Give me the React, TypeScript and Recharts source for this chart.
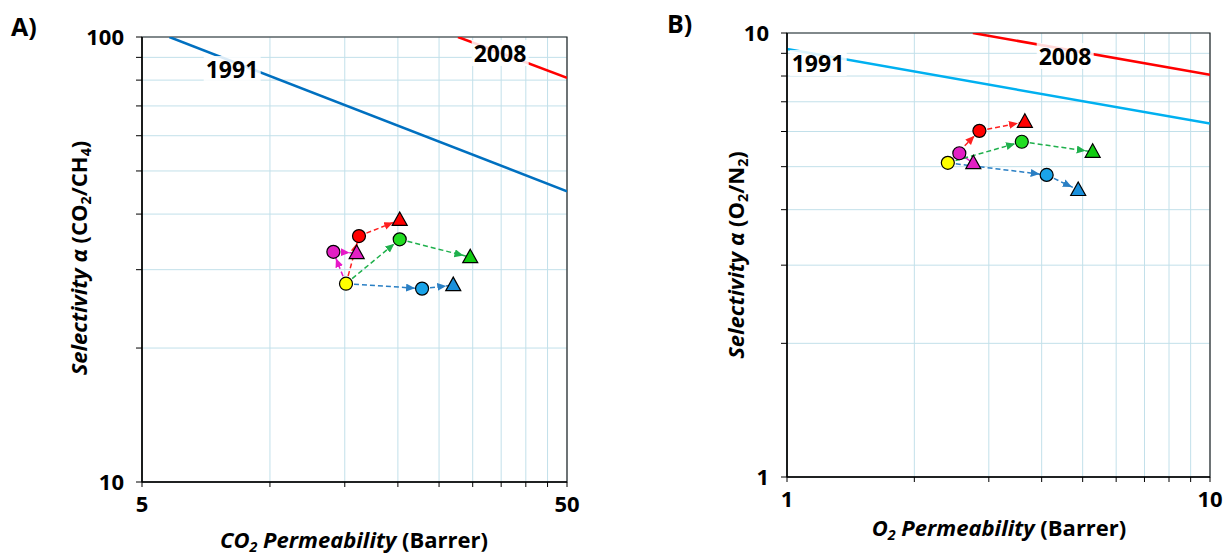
import React from 'react'
import {
  ComposedChart, Line, Scatter, XAxis, YAxis, CartesianGrid, ReferenceArea,
} from 'recharts'

// ---- panel A: CO2/CH4 ----
const aXTicks = [5, 10, 15, 20, 25, 30, 35, 40, 45, 50]
const aYTicks = [10, 20, 30, 40, 50, 60, 70, 80, 90, 100]
const aBound1991 = [{ x: 5.8, y: 100 }, { x: 50, y: 45 }]
const aBound2008 = [{ x: 27.7, y: 100 }, { x: 50, y: 81 }]
const aBase = { x: 15.1, y: 27.9 }
const aCircleX = [14.1, 16.2, 20.2, 22.8]
const aCircleY = [32.9, 35.7, 35.1, 27.2]
const aTriX = [16.0, 20.2, 29.6, 27.0]
const aTriY = [32.7, 38.8, 32.0, 27.7]

// ---- panel B: O2/N2 ----
const bXTicks = [1, 2, 3, 4, 5, 6, 7, 8, 9, 10]
const bYTicks = [1, 2, 3, 4, 5, 6, 7, 8, 9, 10]
const bBound1991 = [{ x: 1, y: 9.2 }, { x: 10, y: 6.25 }]
const bBound2008 = [{ x: 2.75, y: 10 }, { x: 10, y: 8.05 }]
const bBase = { x: 2.4, y: 5.1 }
const bCircleX = [2.555, 2.85, 3.59, 4.11]
const bCircleY = [5.36, 6.02, 5.69, 4.79]
const bTriX = [2.757, 3.65, 5.28, 4.88]
const bTriY = [5.09, 6.31, 5.4, 4.43]

// magenta, red, green, blue
const groups = ['magenta', 'red', 'green', 'blue']
const circleFill = ['#e31fc4', '#ff0000', '#22dd22', '#1aa3e8']
const triFill = ['#e31fc4', '#ff0000', '#11cc11', '#1a90dc']
const dashColor = ['#e619c8', '#ff2020', '#1fb04c', '#2a7fc4']

const FONT = '"Open Sans", sans-serif'
const GRID = '#c2e0ea'

const circleShape = (fill: string) => (p: any) => (
  <circle cx={p.cx} cy={p.cy} r={6.5} fill={fill} stroke="#000" strokeWidth={1.2} />
)
const triShape = (fill: string) => (p: any) => (
  <polygon
    points={`${p.cx},${p.cy - 8} ${p.cx + 7.5},${p.cy + 5.5} ${p.cx - 7.5},${p.cy + 5.5}`}
    fill={fill} stroke="#000" strokeWidth={1.2}
  />
)

interface PanelProps {
  id: string
  width: number
  margin: { top: number; right: number; bottom: number; left: number }
  yWidth: number
  xHeight: number
  xTicks: number[]
  yTicks: number[]
  b1991: { x: number; y: number }[]
  b2008: { x: number; y: number }[]
  c1991: string
  base: { x: number; y: number }
  cx: number[]
  cy: number[]
  tx: number[]
  ty: number[]
}

function Panel(p: PanelProps) {
  const xd = [p.xTicks[0], p.xTicks[p.xTicks.length - 1]]
  const yd = [p.yTicks[0], p.yTicks[p.yTicks.length - 1]]
  const endsOnly = (ends: number[]) => (v: number) => (ends.includes(v) ? String(v) : '')
  const tick = { fontFamily: FONT, fontSize: 22, fontWeight: 700, fill: '#000' }

  const arrows: { data: { x: number; y: number }[]; i: number }[] = []
  groups.forEach((_, i) => {
    arrows.push({ data: [p.base, { x: p.cx[i], y: p.cy[i] }], i })
    arrows.push({ data: [{ x: p.cx[i], y: p.cy[i] }, { x: p.tx[i], y: p.ty[i] }], i })
  })

  return (
    <ComposedChart width={p.width} height={557} margin={p.margin}>
      <defs>
        {groups.map((g, i) => (
          <marker
            key={g}
            id={`${p.id}-arr-${g}`}
            markerUnits="userSpaceOnUse"
            markerWidth={12}
            markerHeight={10}
            refX={16}
            refY={4}
            orient="auto"
          >
            <path d="M0,0 L9,4 L0,8 z" fill={dashColor[i]} />
          </marker>
        ))}
      </defs>
      <CartesianGrid stroke={GRID} strokeWidth={1} />
      <XAxis
        type="number" dataKey="x" scale="log" domain={xd} allowDataOverflow
        ticks={p.xTicks} interval={0} tickFormatter={endsOnly(xd)}
        height={p.xHeight} tick={tick} tickSize={5} tickMargin={9}
        axisLine={{ stroke: '#000', strokeWidth: 1.5 }} tickLine={{ stroke: '#000' }}
      />
      <YAxis
        type="number" dataKey="y" scale="log" domain={yd} allowDataOverflow
        ticks={p.yTicks} interval={0} tickFormatter={endsOnly(yd)}
        width={p.yWidth} tick={tick} tickSize={6} tickMargin={12}
        axisLine={{ stroke: '#000', strokeWidth: 1.5 }} tickLine={{ stroke: '#000' }}
      />
      <ReferenceArea x1={xd[0]} x2={xd[1]} y1={yd[0]} y2={yd[1]} fill="none" stroke="#222" strokeWidth={1.2} />
      <Line data={p.b1991} dataKey="y" stroke={p.c1991} strokeWidth={2.5} dot={false} activeDot={false} isAnimationActive={false} />
      <Line data={p.b2008} dataKey="y" stroke="#ff0000" strokeWidth={2.5} dot={false} activeDot={false} isAnimationActive={false} />
      {arrows.map((a, k) => (
        <Line
          key={`arr${k}`}
          data={a.data}
          dataKey="y"
          stroke={dashColor[a.i]}
          strokeWidth={1.5}
          strokeDasharray="5 3"
          markerEnd={`url(#${p.id}-arr-${groups[a.i]})`}
          dot={false}
          activeDot={false}
          isAnimationActive={false}
        />
      ))}
      <Scatter data={[p.base]} shape={circleShape('#ffff00')} isAnimationActive={false} />
      {groups.map((g, i) => (
        <Scatter key={`c${g}`} data={[{ x: p.cx[i], y: p.cy[i] }]} shape={circleShape(circleFill[i])} isAnimationActive={false} />
      ))}
      {groups.map((g, i) => (
        <Scatter key={`t${g}`} data={[{ x: p.tx[i], y: p.ty[i] }]} shape={triShape(triFill[i])} isAnimationActive={false} />
      ))}
    </ComposedChart>
  )
}

const txt: React.CSSProperties = {
  position: 'absolute', fontFamily: FONT, fontWeight: 700, color: '#000', whiteSpace: 'nowrap',
}
const sub: React.CSSProperties = { fontSize: '0.65em', verticalAlign: '-0.25em', lineHeight: 0 }

function Year({ label, x, y }: { label: string; x: number; y: number }) {
  return (
    <div
      style={{
        ...txt, left: x, top: y, transform: 'translate(-50%, -50%)', fontSize: 23,
        lineHeight: '26px', padding: '0 2px', background: 'rgba(255,255,255,0.85)',
      }}
    >
      {label}
    </div>
  )
}

function XTitle({ x, y, children }: { x: number; y: number; children: React.ReactNode }) {
  return (
    <div style={{ ...txt, left: x - 200, top: y - 11, width: 400, textAlign: 'center', fontSize: 22, lineHeight: '22px' }}>
      {children}
    </div>
  )
}

function YTitle({ x, y, children }: { x: number; y: number; children: React.ReactNode }) {
  return (
    <div
      style={{
        ...txt, left: x - 200, top: y - 11, width: 400, textAlign: 'center', fontSize: 22,
        lineHeight: '22px', transform: 'rotate(-90deg)',
      }}
    >
      {children}
    </div>
  )
}

export default function App() {
  return (
    <div style={{ position: 'fixed', left: 0, top: 0, width: 1223, height: 557, background: '#fff', overflow: 'hidden' }}>
      <div style={{ position: 'absolute', left: 0, top: 0 }}>
        <Panel
          id="a" width={600} margin={{ top: 37, right: 33, bottom: 0, left: 0 }} yWidth={142} xHeight={75}
          xTicks={aXTicks} yTicks={aYTicks} b1991={aBound1991} b2008={aBound2008} c1991="#0070c0"
          base={aBase} cx={aCircleX} cy={aCircleY} tx={aTriX} ty={aTriY}
        />
      </div>
      <div style={{ position: 'absolute', left: 620, top: 0 }}>
        <Panel
          id="b" width={603} margin={{ top: 33, right: 13, bottom: 0, left: 0 }} yWidth={167} xHeight={80}
          xTicks={bXTicks} yTicks={bYTicks} b1991={bBound1991} b2008={bBound2008} c1991="#00b0f0"
          base={bBase} cx={bCircleX} cy={bCircleY} tx={bTriX} ty={bTriY}
        />
      </div>

      <Year label="1991" x={232} y={69} />
      <Year label="2008" x={500} y={53} />
      <Year label="1991" x={818} y={63} />
      <Year label="2008" x={1065} y={56} />

      <div style={{ ...txt, left: 11, top: 9, fontSize: 25 }}>A)</div>
      <div style={{ ...txt, left: 667, top: 6, fontSize: 25 }}>B)</div>

      <XTitle x={354} y={539}>
        <i>CO<sub style={sub}>2</sub> Permeability</i> (Barrer)
      </XTitle>
      <YTitle x={78} y={258}>
        <i>Selectivity α</i> (CO<sub style={sub}>2</sub>/CH<sub style={sub}>4</sub>)
      </YTitle>
      <XTitle x={999} y={527}>
        <i>O<sub style={sub}>2</sub> Permeability</i> (Barrer)
      </XTitle>
      <YTitle x={735} y={255}>
        <i>Selectivity α</i> (O<sub style={sub}>2</sub>/N<sub style={sub}>2</sub>)
      </YTitle>
    </div>
  )
}
